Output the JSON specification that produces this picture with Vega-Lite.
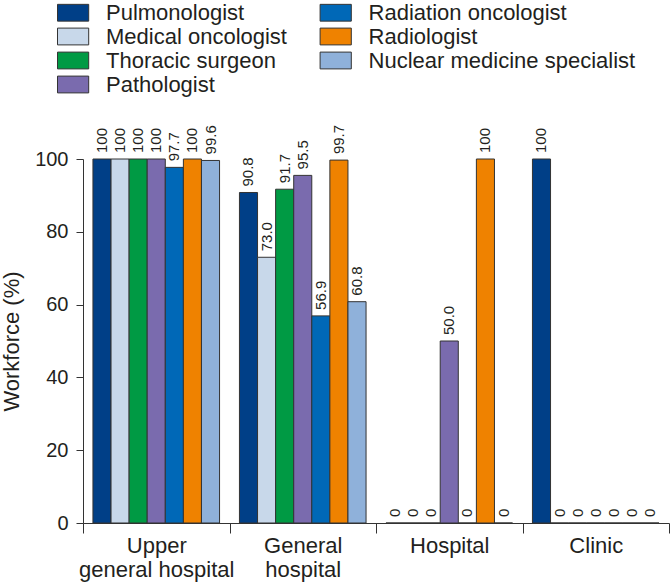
{
  "$schema": "https://vega.github.io/schema/vega-lite/v6.json",
  "width": 586,
  "height": 364,
  "autosize": {"type": "none"},
  "padding": {"left": 83, "top": 159, "right": 1, "bottom": 63},
  "background": "white",
  "config": {
    "view": {"stroke": null},
    "font": "Liberation Sans",
    "axis": {"grid": false, "domainColor": "#333333", "tickColor": "#333333", "labelColor": "#231f20", "titleColor": "#231f20", "labelFont": "Liberation Sans", "titleFont": "Liberation Sans"}
  },
  "data": {
    "values": [
      {"setting": "Upper general hospital", "specialty": "Pulmonologist", "value": 100},
      {"setting": "Upper general hospital", "specialty": "Medical oncologist", "value": 100},
      {"setting": "Upper general hospital", "specialty": "Thoracic surgeon", "value": 100},
      {"setting": "Upper general hospital", "specialty": "Pathologist", "value": 100},
      {"setting": "Upper general hospital", "specialty": "Radiation oncologist", "value": 97.7},
      {"setting": "Upper general hospital", "specialty": "Radiologist", "value": 100},
      {"setting": "Upper general hospital", "specialty": "Nuclear medicine specialist", "value": 99.6},
      {"setting": "General hospital", "specialty": "Pulmonologist", "value": 90.8},
      {"setting": "General hospital", "specialty": "Medical oncologist", "value": 73.0},
      {"setting": "General hospital", "specialty": "Thoracic surgeon", "value": 91.7},
      {"setting": "General hospital", "specialty": "Pathologist", "value": 95.5},
      {"setting": "General hospital", "specialty": "Radiation oncologist", "value": 56.9},
      {"setting": "General hospital", "specialty": "Radiologist", "value": 99.7},
      {"setting": "General hospital", "specialty": "Nuclear medicine specialist", "value": 60.8},
      {"setting": "Hospital", "specialty": "Pulmonologist", "value": 0},
      {"setting": "Hospital", "specialty": "Medical oncologist", "value": 0},
      {"setting": "Hospital", "specialty": "Thoracic surgeon", "value": 0},
      {"setting": "Hospital", "specialty": "Pathologist", "value": 50.0},
      {"setting": "Hospital", "specialty": "Radiation oncologist", "value": 0},
      {"setting": "Hospital", "specialty": "Radiologist", "value": 100},
      {"setting": "Hospital", "specialty": "Nuclear medicine specialist", "value": 0},
      {"setting": "Clinic", "specialty": "Pulmonologist", "value": 100},
      {"setting": "Clinic", "specialty": "Medical oncologist", "value": 0},
      {"setting": "Clinic", "specialty": "Thoracic surgeon", "value": 0},
      {"setting": "Clinic", "specialty": "Pathologist", "value": 0},
      {"setting": "Clinic", "specialty": "Radiation oncologist", "value": 0},
      {"setting": "Clinic", "specialty": "Radiologist", "value": 0},
      {"setting": "Clinic", "specialty": "Nuclear medicine specialist", "value": 0}
    ]
  },
  "transform": [
    {"calculate": "datum.value == 100 || datum.value == 0 ? format(datum.value, 'd') : format(datum.value, '.1f')", "as": "label"}
  ],
  "encoding": {
    "x": {
      "field": "setting",
      "type": "nominal",
      "sort": ["Upper general hospital", "General hospital", "Hospital", "Clinic"],
      "scale": {"paddingInner": 0, "paddingOuter": 0},
      "axis": {
        "title": null,
        "labelAngle": 0,
        "tickBand": "extent",
        "tickSize": 10,
        "labelFontSize": 22,
        "labelPadding": 2,
        "labelLineHeight": 24,
        "labelBaseline": "top",
        "labelExpr": "datum.value == 'Upper general hospital' ? ['Upper', 'general hospital'] : datum.value == 'General hospital' ? ['General', 'hospital'] : datum.value"
      }
    },
    "xOffset": {
      "field": "specialty",
      "type": "nominal",
      "sort": ["Pulmonologist", "Medical oncologist", "Thoracic surgeon", "Pathologist", "Radiation oncologist", "Radiologist", "Nuclear medicine specialist"],
      "scale": {"paddingInner": 0, "paddingOuter": 0.55}
    },
    "y": {
      "field": "value",
      "type": "quantitative",
      "scale": {"domain": [0, 100], "nice": false},
      "axis": {
        "title": "Workforce (%)",
        "values": [0, 20, 40, 60, 80, 100],
        "tickSize": 7,
        "labelFontSize": 20,
        "labelPadding": 8,
        "titleFontSize": 22,
        "titleFontWeight": "normal",
        "titlePadding": 11
      }
    }
  },
  "layer": [
    {
      "mark": {"type": "bar", "stroke": "#333333", "strokeWidth": 1},
      "encoding": {
        "color": {
          "field": "specialty",
          "type": "nominal",
          "scale": {
            "domain": ["Pulmonologist", "Medical oncologist", "Thoracic surgeon", "Pathologist", "Radiation oncologist", "Radiologist", "Nuclear medicine specialist"],
            "range": ["#003f87", "#c8d8ea", "#009a44", "#7a6bae", "#0068b7", "#ef8200", "#8fb1da"]
          },
          "legend": {
            "title": null,
            "orient": "none",
            "legendX": -22.4,
            "legendY": -159,
            "columns": 2,
            "columnPadding": 29.6,
            "rowPadding": 0,
            "symbolType": "M-1.3,-0.7H1.3V0.7H-1.3Z",
            "symbolSize": 576,
            "symbolStrokeColor": "#333333",
            "symbolStrokeWidth": 1,
            "symbolOpacity": 1,
            "labelFontSize": 22,
            "labelFont": "Liberation Sans",
            "labelColor": "#231f20",
            "labelOffset": 20.4,
            "labelLimit": 400
          }
        }
      }
    },
    {
      "mark": {"type": "text", "angle": 270, "align": "left", "baseline": "middle", "dx": 6, "fontSize": 15, "font": "Liberation Sans", "color": "#231f20"},
      "encoding": {"text": {"field": "label"}}
    }
  ]
}
